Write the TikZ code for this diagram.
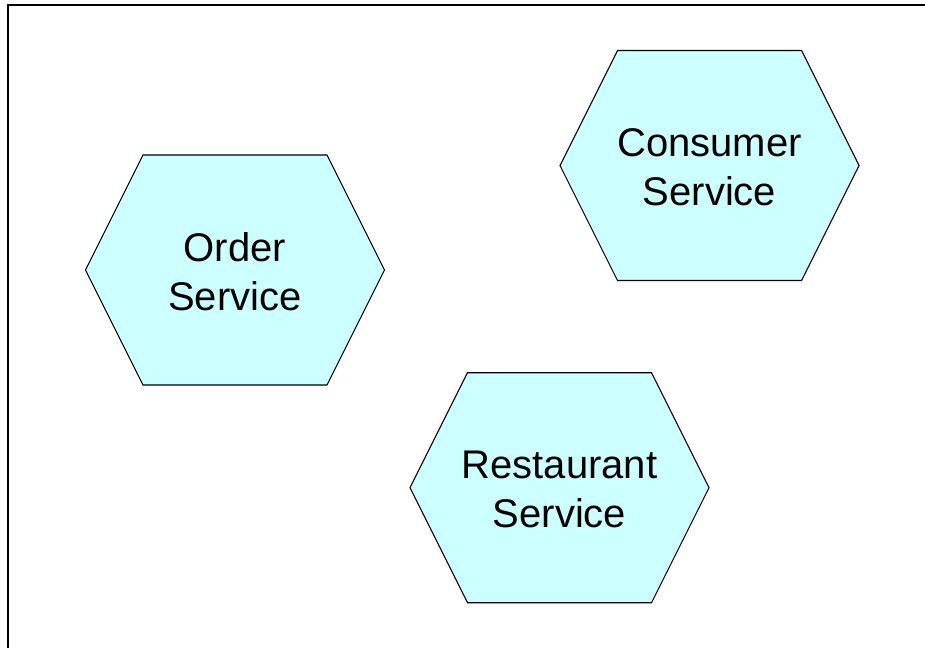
\documentclass[tikz,border=0pt]{standalone}
\usepackage{fontspec}
\newfontfamily\hexfont{Liberation Sans}
\definecolor{hexfill}{HTML}{CCFFFF}
\tikzset{
  hexshape/.style={draw=black, fill=hexfill, line width=1.1pt, line join=miter},
  hexlabel/.style={align=center, font=\hexfont\fontsize{40}{49}\selectfont, inner sep=0pt, yshift=-2pt},
  framestyle/.style={draw=black, line width=2pt}
}
\newcommand\myhex[1]{%
  \path[hexshape] ($(#1)+(-149.5,0)$) -- ($(#1)+(-92,-115)$) -- ($(#1)+(92,-115)$)
    -- ($(#1)+(149.5,0)$) -- ($(#1)+(92,115)$) -- ($(#1)+(-92,115)$) -- cycle;}
\usetikzlibrary{calc}
\begin{document}
\begin{tikzpicture}[x=1pt,y=-1pt]
\useasboundingbox (0,0) rectangle (925,648);
\draw[framestyle] (8,648) -- (8,5) -- (925,5);
\coordinate (oc) at (235,270);
\coordinate (cc) at (709.5,165.5);
\coordinate (rc) at (559.5,487.7);
\myhex{oc}
\myhex{cc}
\myhex{rc}
\node[hexlabel] (order) at (oc) {Order\\Service};
\node[hexlabel] (consumer) at (cc) {Consumer\\Service};
\node[hexlabel] (restaurant) at (rc) {Restaurant\\Service};
\end{tikzpicture}
\end{document}
